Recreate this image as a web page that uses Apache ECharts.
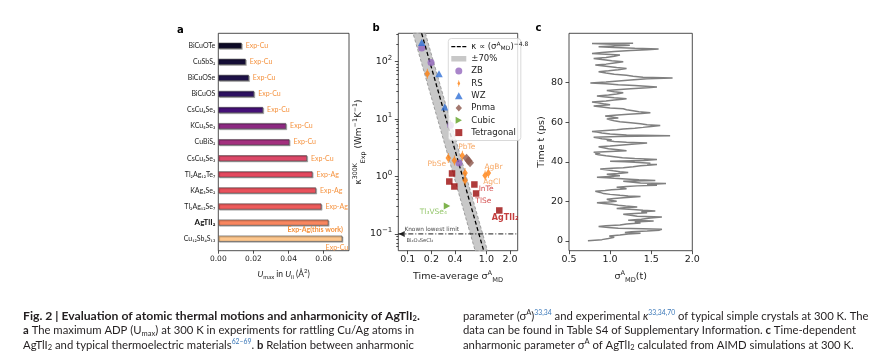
<!DOCTYPE html>
<html><head><meta charset="utf-8">
<script src="https://cdn.jsdelivr.net/npm/echarts@6/dist/echarts.min.js"></script>
<style>html,body{margin:0;padding:0;background:#fff}#c{width:880px;height:358px}</style>
</head><body><div id="c"></div>
<script>
// ---------- Panel a data ----------
const A_CATEGORIES = ['BiCuOTe','CuSbS₂','BiCuOSe','BiCuOS','CsCu₄Se₃','KCu₅Se₃','CuBiS₂','CsCu₅Se₃','Tl₂Ag₁₂Te₇','KAg₃Se₂','Tl₂Ag₁₂Se₇','AgTlI₂','Cu₁₂Sb₄S₁₃'];
const A_UMAX = [0.0133,0.0156,0.0174,0.0204,0.0255,0.0386,0.0405,0.0505,0.0536,0.0556,0.0587,0.0627,0.0706];
const A_SOURCES = ['Exp-Cu','Exp-Cu','Exp-Cu','Exp-Cu','Exp-Cu','Exp-Cu','Exp-Cu','Exp-Cu','Exp-Ag','Exp-Ag','Exp-Ag','Exp-Ag(this work)','Exp-Cu'];
const A_XTICKS = [0, 0.02, 0.04, 0.06];

// ---------- Panel b data ([sigma, kappa]) ----------
const B_ZB = [[0.1507,172.6],[0.198,96.8],[0.350,7.8],[0.449,1.71]];
const B_RS = [[0.1776,61.5],[0.328,2.09],[0.392,1.90],[0.495,2.29],[0.536,1.15],[0.536,0.85],[0.963,1.04],[1.06,1.15]];
const B_WZ = [[0.1507,216],[0.250,61.5],[0.296,16.2]];
const B_PNMA = [[0.560,2.08],[0.594,1.88],[0.620,1.73]];
const B_CUBIC = [[0.316,0.305]];
const B_TETRA = [[0.366,1.13],[0.338,0.818],[0.392,0.67],[0.704,0.726],[0.74,0.506],[1.459,0.256]];
const B_FIT_EXPONENT = -4.8;
const B_FIT_PREFACTOR = 0.035;
const B_BAND = 0.7;
const B_LOWEST_LIMIT = 0.1;
const B_LIMIT_MARK = [[0.084, 0.1]];
const B_XTICKS = [0.1, 0.2, 0.4, 1.0, 2.0];
const B_YTICKS = [0.1, 1, 10, 100];
const B_ANNOT_NAMES = ['PbTe','PbSe','AgBr','AgCl','InTe','TlSe','AgTlI₂','Tl₃VSe₄','Known lowest limit','Bi₄O₄SeCl₂'];
const B_ANNOT_POS = [[0.563,3.25],[0.234,1.66],[1.23,1.46],[1.17,0.786],[0.991,0.61],[0.916,0.377],[1.73,0.188],[0.212,0.238],[0.202,0.118],[0.143,0.0767]];

// ---------- Panel c data ([time ps, sigma]) ----------
const C_TRACE = [[0.0,0.73],[0.6,0.90],[1.2,0.98],[1.8,1.05],[2.4,0.99],[2.9,1.12],[3.4,1.22],[3.8,1.37],[4.2,1.18],[4.6,1.26],[5.0,1.45],[5.4,1.60],[5.8,1.63],[6.1,1.40],[6.4,1.10],[6.8,0.98],[7.2,0.86],[7.6,0.95],[8.0,1.12],[8.5,1.20],[9.0,1.37],[9.5,1.30],[10.0,1.53],[10.4,1.22],[10.9,1.38],[11.5,1.49],[12.0,1.63],[12.4,1.33],[12.9,1.25],[13.4,1.16],[13.8,1.30],[14.2,1.45],[14.7,1.38],[15.1,1.55],[15.5,1.40],[15.9,1.28],[16.4,1.08],[16.8,1.20],[17.1,1.33],[17.6,1.19],[18.0,1.10],[18.5,1.02],[18.9,0.92],[19.3,0.84],[19.7,0.98],[20.0,1.08],[20.5,1.00],[21.0,0.96],[21.4,1.05],[21.8,1.16],[22.1,1.25],[22.4,1.37],[22.7,1.22],[23.0,1.12],[23.5,1.00],[23.9,0.92],[24.5,0.88],[25.1,0.82],[25.5,0.94],[25.8,1.02],[26.1,1.12],[26.4,1.20],[26.8,1.14],[27.1,1.08],[27.5,1.20],[27.8,1.33],[28.1,1.57],[28.5,1.45],[29.0,1.68],[29.3,1.37],[29.7,1.25],[30.2,1.16],[30.5,1.55],[30.9,1.35],[31.2,1.24],[31.6,1.05],[31.9,0.96],[32.2,0.84],[32.6,1.00],[32.9,1.12],[33.3,1.03],[33.7,0.96],[34.1,1.10],[34.6,1.22],[35.0,1.12],[35.4,1.04],[35.9,0.95],[36.3,0.88],[36.7,1.02],[37.0,1.16],[37.5,1.28],[38.0,1.37],[38.3,1.50],[38.6,1.57],[39.0,1.45],[39.3,1.49],[39.7,1.30],[40.0,1.18],[40.3,1.00],[40.7,1.41],[41.2,1.57],[41.6,1.30],[42.0,1.15],[42.5,1.05],[43.0,0.95],[43.5,0.86],[43.9,0.82],[44.4,0.88],[44.8,0.80],[45.2,1.00],[45.6,1.20],[46.1,1.10],[46.6,0.98],[47.1,0.92],[47.6,0.86],[48.0,1.00],[48.5,1.15],[49.0,1.30],[49.5,1.45],[49.9,1.20],[50.3,1.05],[50.7,0.96],[51.2,1.02],[51.6,0.90],[52.0,0.86],[52.4,0.80],[52.8,1.10],[53.2,1.73],[53.6,1.20],[54.0,1.00],[54.5,0.90],[55.0,0.84],[55.3,0.78],[55.8,0.95],[56.2,1.08],[56.6,1.16],[57.0,1.30],[57.4,1.40],[57.9,1.50],[58.3,1.61],[58.7,1.45],[59.2,1.37],[59.7,1.25],[60.2,1.12],[60.7,1.05],[61.2,1.00],[61.7,0.96],[62.1,1.10],[62.6,1.02],[63.1,0.94],[63.5,1.05],[64.0,1.22],[64.4,1.38],[64.8,1.49],[65.3,1.35],[65.8,1.28],[66.3,1.20],[66.8,1.16],[67.2,1.00],[67.7,0.90],[68.2,0.80],[68.8,1.00],[69.3,0.92],[69.8,0.85],[70.2,0.78],[70.7,0.95],[71.2,1.05],[71.6,1.15],[71.9,1.20],[72.4,1.05],[72.9,0.92],[73.3,0.84],[73.8,0.98],[74.3,1.08],[74.9,1.16],[75.4,1.05],[75.8,1.00],[76.1,0.96],[76.6,1.12],[77.0,1.25],[77.4,1.45],[77.8,1.57],[78.2,1.55],[78.6,1.30],[79.0,1.10],[79.5,0.95],[79.9,0.76],[80.4,0.95],[80.9,1.10],[81.4,1.25],[82.0,1.45],[82.4,1.76],[82.8,1.40],[83.3,1.28],[83.8,1.20],[84.3,1.05],[84.9,0.95],[85.5,0.86],[86.0,0.98],[86.6,1.10],[87.2,1.20],[87.7,1.08],[88.3,0.95],[88.9,0.82],[89.4,0.95],[90.0,1.05],[90.6,1.16],[91.1,1.02],[91.7,0.90],[92.3,0.80],[92.8,0.95],[93.4,1.05],[94.0,1.12],[94.4,0.95],[94.8,0.78],[95.3,0.90],[95.8,1.05],[96.3,1.25],[96.7,1.45],[97.0,1.59],[97.4,1.30],[97.8,1.05],[98.2,0.86],[98.6,1.05],[99.0,1.24],[99.4,1.00],[99.8,0.78],[100.0,1.28]];
const C_XTICKS = [0.5, 1.0, 1.5, 2.0];
const C_YTICKS = [0, 20, 40, 60, 80];

// ---------- styles ----------
const FONT = 'DejaVu Sans';
const SANS = 'Lato';
const A_COLORS = ['#0d0a26','#150e36','#1e1148','#2d1160','#451077','#8c2981','#a3307e','#dc4868','#e4495f','#e9515c','#ee5b5b','#f8865f','#fdc68c'];
const ORANGE_TXT = '#f5923e';
const RED_TXT = '#c81e1e';
const ANNOT_COLORS = [ORANGE_TXT,ORANGE_TXT,ORANGE_TXT,ORANGE_TXT,RED_TXT,RED_TXT,'#b50d0d','#78b843','#111','#111'];
const ANNOT_SIZES = [7.5,7.5,7.5,7.5,7.5,7.5,8,7.5,5.8,5.2];

const SYM_TRI = 'path://M5,0 L10,9 L0,9 Z';
const SYM_TRI_RIGHT = 'path://M0,0 L9,5 L0,10 Z';
const SYM_TRI_LEFT = 'path://M9,0 L0,5 L9,10 Z';
const SYM_DIAMOND = 'path://M5,0 L10,5.5 L5,11 L0,5.5 Z';
const SYM_SQUARE = 'path://M0,0 L10,0 L10,10 L0,10 Z';
const SYM_THIN_DIAMOND = 'path://M4.4,0 L5.6,0 L5.6,3 L9,10 L5.6,17 L5.6,20 L4.4,20 L4.4,17 L1,10 L4.4,3 Z';
const ICON_DASH = 'path://M0,0 L0.01,0 L0.01,0.01 Z M0,3 L4,3 L4,4.3 L0,4.3 Z M5.5,3 L9.5,3 L9.5,4.3 L5.5,4.3 Z M11,3 L15,3 L15,4.3 L11,4.3 Z M14.99,7 L15,7 L15,6.99 Z';
const ICON_BAND = 'path://M0,0 L0.01,0 L0.01,0.01 Z M0,0.8 L15,0.8 L15,6.2 L0,6.2 Z M14.99,7 L15,7 L15,6.99 Z';

const B_XMIN = 0.076, B_XMAX = 2.5, B_YMIN = 0.051, B_YMAX = 312;
const B_YMINOR = [];
[0.01,0.1,1,10,100].forEach(d => { for (let m = 2; m <= 9; m++) { const v = m*d; if (v > B_YMIN && v < B_YMAX) B_YMINOR.push(v); } });

function sigmaOnFit(k, f) { return Math.pow(k / (f * B_FIT_PREFACTOR), 1 / B_FIT_EXPONENT); }

function rich(size, family) {
  family = family || FONT;
  return {
    sup: {fontFamily: family, fontSize: size*0.7, lineHeight: size*0.75, verticalAlign: 'top'},
    sub: {fontFamily: family, fontSize: size*0.7, lineHeight: size*0.75, verticalAlign: 'bottom'},
    i: {fontFamily: family, fontSize: size, fontStyle: 'italic', lineHeight: size*1.45},
    b: {fontFamily: family, fontSize: size, fontWeight: 'bold', lineHeight: size*1.45}
  };
}
const axisCol = '#222';

const chart = echarts.init(document.getElementById('c'), null, {renderer: 'canvas'});

const CAP_SIZE = 11.3;
const CAP_COL = '#231f20';
const capRich = {
  b: {fontFamily: SANS, fontSize: CAP_SIZE, fontWeight: 'bold', color: CAP_COL, lineHeight: 14},
  bt: {fontFamily: SANS, fontSize: 12.2, fontWeight: 'bold', color: CAP_COL, lineHeight: 14},
  bsub: {fontFamily: SANS, fontSize: 7.5, fontWeight: 'bold', color: CAP_COL, lineHeight: 9, verticalAlign: 'bottom'},
  sub: {fontFamily: SANS, fontSize: 7.5, color: CAP_COL, lineHeight: 9, verticalAlign: 'bottom'},
  sup: {fontFamily: SANS, fontSize: 7.5, color: CAP_COL, lineHeight: 9, verticalAlign: 'top'},
  ref: {fontFamily: SANS, fontSize: 6.8, color: '#3a77b8', lineHeight: 9, verticalAlign: 'top'},
  i: {fontFamily: SANS, fontSize: CAP_SIZE, fontStyle: 'italic', color: CAP_COL, lineHeight: 14}
};
const CAPTION = [
  {x: 23, y: 316, t: '{bt|Fig. 2 | Evaluation of atomic thermal motions and anharmonicity of AgTlI}{bsub|2}{bt|.}'},
  {x: 23, y: 330.5, t: '{b|a} The maximum ADP (U{sub|max}) at 300 K in experiments for rattling Cu/Ag atoms in'},
  {x: 23, y: 345, t: 'AgTlI{sub|2} and typical thermoelectric materials{ref|62–69}. {b|b} Relation between anharmonic'},
  {x: 463, y: 316, t: 'parameter (σ{sup|A}){ref|33,34} and experimental {i|κ}{ref|33,34,70} of typical simple crystals at 300 K. The'},
  {x: 463, y: 330.5, t: 'data can be found in Table S4 of Supplementary Information. {b|c} Time-dependent'},
  {x: 463, y: 345, t: 'anharmonic parameter σ{sup|A} of AgTlI{sub|2} calculated from AIMD simulations at 300 K.'}
];
const titles = CAPTION.map(c => ({
  text: c.t, left: c.x, top: c.y - 7, padding: 0,
  textStyle: {fontFamily: SANS, fontSize: CAP_SIZE, color: CAP_COL, fontWeight: 'normal', lineHeight: 14, rich: capRich}
}));
[['a',177,25],['b',372.5,23.5],['c',535.5,23.5]].forEach(p => titles.push({
  text: p[0], left: p[1], top: p[2], padding: 0,
  textStyle: {fontFamily: FONT, fontSize: 10, fontWeight: 'bold', color: '#000'}
}));

const tickStyle = {lineStyle: {color: axisCol, width: 0.8}};
const noLine = {show: false, onZero: false};

const option = {
  animation: false,
  backgroundColor: '#fff',
  title: titles,
  grid: [
    {left: 218.3, top: 33.3, width: 130.7, height: 217.4, show: true, borderColor: axisCol, borderWidth: 0.8, containLabel: false},
    {left: 218.3, top: 37.66, width: 130.7, height: 209.04, containLabel: false},
    {left: 398.3, top: 33.3, width: 119.4, height: 217.4, show: true, borderColor: axisCol, borderWidth: 0.8, containLabel: false},
    {left: 569, top: 33.3, width: 123.3, height: 217.4, show: true, borderColor: axisCol, borderWidth: 0.8, containLabel: false}
  ],
  graphic: [
    {type: 'rect', z: 3, silent: true, shape: {x: 448.3, y: 38.5, width: 72.5, height: 102, r: 3},
     style: {fill: 'rgba(255,255,255,0.8)', stroke: '#cfcfcf', lineWidth: 0.8}}
  ],
  xAxis: [
    {gridIndex: 0, type: 'value', min: 0, max: 0.0744, axisLine: noLine, splitLine: {show: false},
     axisTick: Object.assign({length: 3, customValues: A_XTICKS}, tickStyle),
     axisLabel: {customValues: A_XTICKS, formatter: v => v.toFixed(2), fontSize: 7.5, fontFamily: FONT, color: axisCol, margin: 4},
     name: '{i|U}{sub|max} in {i|U}{sub|ii} (Å{sup|2})', nameLocation: 'middle', nameGap: 17,
     nameTextStyle: {fontSize: 8.5, fontFamily: SANS, color: axisCol, lineHeight: 12, rich: rich(8.5, SANS)}},
    {gridIndex: 1, type: 'value', min: 0, max: 0.0744, show: false, axisLine: noLine},
    {gridIndex: 2, type: 'log', logBase: 10, min: B_XMIN, max: B_XMAX, axisLine: noLine, splitLine: {show: false},
     axisTick: Object.assign({length: 3.5, customValues: B_XTICKS}, tickStyle),
     axisLabel: {customValues: B_XTICKS, formatter: v => Number(v).toFixed(1), fontSize: 9.5, fontFamily: FONT, color: axisCol, margin: 4},
     name: 'Time-average σ{sup|A}{sub|MD}', nameLocation: 'middle', nameGap: 16,
     nameTextStyle: {fontSize: 9.5, fontFamily: FONT, color: axisCol, lineHeight: 14, rich: rich(9.5)}},
    {gridIndex: 3, type: 'value', min: 0.5, max: 2.0, interval: 0.5, axisLine: noLine, splitLine: {show: false},
     axisTick: Object.assign({length: 3.5, customValues: C_XTICKS}, tickStyle),
     axisLabel: {customValues: C_XTICKS, formatter: v => Number(v).toFixed(1), fontSize: 9.5, fontFamily: FONT, color: axisCol, margin: 4},
     name: 'σ{sup|A}{sub|MD}(t)', nameLocation: 'middle', nameGap: 16,
     nameTextStyle: {fontSize: 9.5, fontFamily: FONT, color: axisCol, lineHeight: 14, rich: rich(9.5)}}
  ],
  yAxis: [
    {gridIndex: 0, type: 'value', show: false, min: 0, max: 1, axisLine: noLine},
    {gridIndex: 1, type: 'category', data: A_CATEGORIES, inverse: true, axisLine: noLine, splitLine: {show: false},
     axisTick: Object.assign({alignWithLabel: true, length: 2}, tickStyle),
     axisLabel: {fontSize: 7, fontFamily: SANS, color: axisCol, margin: 3,
       formatter: v => v === 'AgTlI₂' ? '{b|' + v + '}' : v,
       rich: {b: {fontFamily: SANS, fontSize: 8, fontWeight: 'bold', color: '#111'}}}},
    {gridIndex: 2, type: 'log', logBase: 10, min: B_YMIN, max: B_YMAX, axisLine: noLine, splitLine: {show: false},
     axisTick: Object.assign({length: 3.5, customValues: B_YTICKS}, tickStyle),
     axisLabel: {customValues: B_YTICKS, fontSize: 9.5, fontFamily: FONT, color: axisCol, margin: 6, lineHeight: 14,
       formatter: v => '10{sup|' + String(Math.round(Math.log10(v))).replace('-', '−') + '}',
       rich: {sup: {fontFamily: FONT, fontSize: 7, lineHeight: 8, verticalAlign: 'top', color: axisCol}}},
     name: 'κ{sup|300K}{sub|Exp} (Wm{sup|−1}K{sup|−1})', nameLocation: 'middle', nameGap: 22, nameRotate: 90,
     nameTextStyle: {fontSize: 9, fontFamily: FONT, color: axisCol, lineHeight: 14, rich: rich(9)}},
    {gridIndex: 2, type: 'log', logBase: 10, min: B_YMIN, max: B_YMAX, position: 'left', axisLine: noLine, splitLine: {show: false},
     axisLabel: {show: false}, axisTick: Object.assign({length: 2, customValues: B_YMINOR}, tickStyle)},
    {gridIndex: 3, type: 'value', min: -5, max: 105, axisLine: noLine, splitLine: {show: false},
     axisTick: Object.assign({length: 3.5, customValues: C_YTICKS}, tickStyle),
     axisLabel: {customValues: C_YTICKS, fontSize: 9.5, fontFamily: FONT, color: axisCol, margin: 6},
     name: 'Time t (ps)', nameLocation: 'middle', nameGap: 20, nameRotate: 90,
     nameTextStyle: {fontSize: 9.5, fontFamily: FONT, color: axisCol}}
  ],
  legend: {
    data: [{name: 'fit', icon: ICON_DASH}, {name: '±70%', icon: ICON_BAND}, 'ZB', 'RS', 'WZ', 'Pnma', 'Cubic', 'Tetragonal'],
    orient: 'vertical', left: 448.3, top: 38.5, itemWidth: 15, itemHeight: 7, itemGap: 2.3, z: 4,
    selectedMode: false, backgroundColor: 'transparent', borderWidth: 0,
    padding: [3, 4, 3, 3],
    formatter: n => n === 'fit' ? 'κ ∝ (σ{sup|A}{sub|MD}){sup|−4.8}' : n,
    textStyle: {fontSize: 8.5, fontFamily: FONT, color: '#222', lineHeight: 10,
      rich: {sup: {fontFamily: FONT, fontSize: 6, lineHeight: 6, verticalAlign: 'top', color: '#222'},
             sub: {fontFamily: FONT, fontSize: 6, lineHeight: 6, verticalAlign: 'bottom', color: '#222'}}}
  },
  series: [
    {type: 'bar', xAxisIndex: 1, yAxisIndex: 1, barWidth: 6, silent: true,
     data: A_UMAX.map((v, i) => {
       const item = {value: v, itemStyle: {color: A_COLORS[i]}};
       if (i === 11) item.label = {offset: [-45, 6.7], fontWeight: 'bold'};
       if (i === 12) item.label = {offset: [-20.7, 8.6]};
       return item;
     }),
     itemStyle: {borderColor: '#4a4a4a', borderWidth: 0.6, shadowColor: 'rgba(0,0,0,0.3)', shadowOffsetX: 1, shadowOffsetY: 1, shadowBlur: 0},
     label: {show: true, position: 'right', distance: 4, formatter: p => A_SOURCES[p.dataIndex], color: ORANGE_TXT, fontSize: 7, fontFamily: SANS}},
    {type: 'custom', name: '±70%', xAxisIndex: 2, yAxisIndex: 2, data: [[1, 1]], z: 1, silent: true,
     itemStyle: {color: '#c8c8c8'},
     renderItem: (params, api) => {
       const pts = [
         [sigmaOnFit(B_YMAX, 1 + B_BAND), B_YMAX], [sigmaOnFit(B_YMIN, 1 + B_BAND), B_YMIN],
         [sigmaOnFit(B_YMIN, 1 - B_BAND), B_YMIN], [sigmaOnFit(B_YMAX, 1 - B_BAND), B_YMAX]
       ].map(p => api.coord(p));
       return {type: 'polygon', shape: {points: pts}, style: {fill: '#c8c8c8', stroke: '#8c8c8c', lineWidth: 0.8, lineDash: [3, 2]}};
     }},
    {type: 'line', name: 'fit', xAxisIndex: 2, yAxisIndex: 2, symbol: 'none', showSymbol: false, z: 2, silent: true,
     data: [[sigmaOnFit(B_YMAX, 1), B_YMAX], [sigmaOnFit(B_YMIN, 1), B_YMIN]],
     lineStyle: {color: '#000', width: 1.3, type: [4, 2.5]}, itemStyle: {color: '#000'}},
    {type: 'line', name: 'limit', xAxisIndex: 2, yAxisIndex: 2, symbol: 'none', z: 2, silent: true,
     data: [[B_XMIN, B_LOWEST_LIMIT], [B_XMAX, B_LOWEST_LIMIT]],
     lineStyle: {color: '#000', width: 0.9, type: [5, 2, 1, 2]}},
    {type: 'scatter', name: 'limitMark', xAxisIndex: 2, yAxisIndex: 2, z: 2, silent: true, data: B_LIMIT_MARK,
     symbol: SYM_TRI_LEFT, symbolSize: [6, 6], itemStyle: {color: '#000'}},
    {type: 'scatter', name: 'ZB', xAxisIndex: 2, yAxisIndex: 2, z: 2, data: B_ZB, symbol: 'circle', symbolSize: 7, itemStyle: {color: '#9467bd'}},
    {type: 'scatter', name: 'RS', xAxisIndex: 2, yAxisIndex: 2, z: 2, data: B_RS, symbol: SYM_THIN_DIAMOND, symbolSize: [5.5, 10], itemStyle: {color: '#ff7f0e'}},
    {type: 'scatter', name: 'WZ', xAxisIndex: 2, yAxisIndex: 2, z: 2, data: B_WZ, symbol: SYM_TRI, symbolSize: [7.5, 7], itemStyle: {color: '#2f6fd6'}},
    {type: 'scatter', name: 'Pnma', xAxisIndex: 2, yAxisIndex: 2, z: 2, data: B_PNMA, symbol: SYM_DIAMOND, symbolSize: [8, 8.8], itemStyle: {color: '#8c564b'}},
    {type: 'scatter', name: 'Cubic', xAxisIndex: 2, yAxisIndex: 2, z: 2, data: B_CUBIC, symbol: SYM_TRI_RIGHT, symbolSize: [6.5, 7], itemStyle: {color: '#5fa022'}},
    {type: 'scatter', name: 'Tetragonal', xAxisIndex: 2, yAxisIndex: 2, z: 2, data: B_TETRA, symbol: SYM_SQUARE, symbolSize: 6.5, itemStyle: {color: '#9b0a0a'}},
    {type: 'scatter', name: 'annot', xAxisIndex: 2, yAxisIndex: 2, z: 5, silent: true, symbolSize: 0,
     data: B_ANNOT_POS.map((p, i) => ({value: p, label: {show: true, position: 'inside', formatter: B_ANNOT_NAMES[i],
       color: ANNOT_COLORS[i], fontSize: ANNOT_SIZES[i], fontFamily: FONT, fontWeight: i === 6 ? 'bold' : 'normal'}}))},
    {type: 'line', name: 'trace', xAxisIndex: 3, yAxisIndex: 4, symbol: 'none', silent: true,
     data: C_TRACE.map(p => [p[1], p[0]]),
     lineStyle: {color: '#808080', width: 1.5}, itemStyle: {color: '#808080'}}
  ]
};
chart.setOption(option);
</script>
</body></html>
